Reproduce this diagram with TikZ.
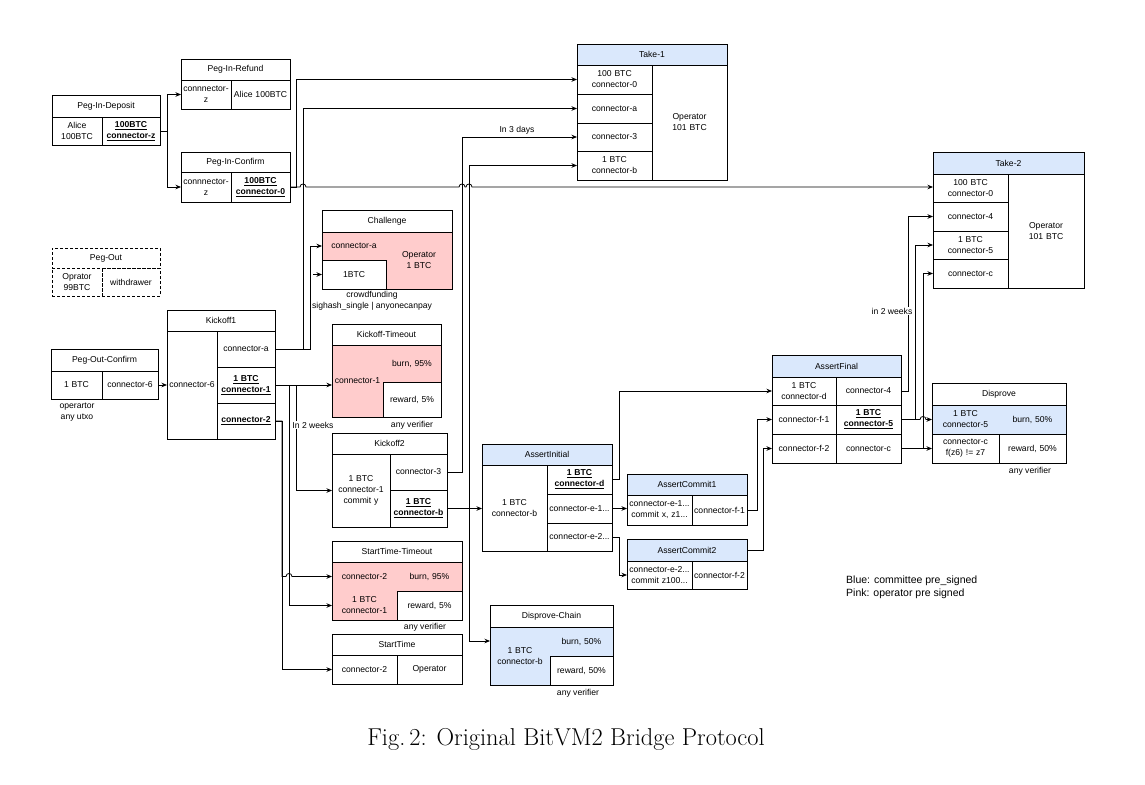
\documentclass[tikz,border=0pt]{standalone}
\usepackage{fontspec}
\newfontfamily\dfont{Liberation Sans}
\usetikzlibrary{arrows.meta,calc}
\definecolor{pinkf}{HTML}{FFCCCC}
\definecolor{bluef}{HTML}{DAE8FC}
\newcommand\bul[1]{\textbf{\underline{#1}}}
\newcommand\cellnode[7][]{%
  \pgfmathsetmacro\cellw{#5-#3}%
  \pgfmathsetmacro\cellh{#6-#4}%
  \pgfmathsetmacro\celltw{#5-#3-2}%
  \node[cell,minimum width=\cellw pt,text width=\celltw pt,minimum height=\cellh pt,#1] (#2) at (#3,#4) {#7};}
\begin{document}
\begin{tikzpicture}[x=1pt,y=-1pt,
  cell/.style={draw,line width=0.8pt,anchor=north west,inner xsep=1pt,inner ysep=0pt,outer sep=0pt,align=center,font=\dfont\fontsize{8.6}{11}\selectfont},
  bx/.style={draw,line width=0.8pt},
  conn/.style={draw,line width=0.8pt,-{Stealth[length=5.5pt,width=4.5pt]}},
  lbl/.style={font=\dfont\fontsize{8.6}{11}\selectfont,inner sep=1pt,align=center}]
\useasboundingbox (0,0) rectangle (1145,784);

% Peg-In-Deposit
\cellnode{pidh}{52}{95}{160}{117}{Peg-In-Deposit}
\cellnode{pidA}{52}{117}{102}{145}{Alice\\100BTC}
\cellnode{pidZ}{102}{117}{160}{145}{\bul{100BTC}\\\bul{connector-z}}
% Peg-In-Refund
\cellnode{pirh}{181}{59}{290}{80}{Peg-In-Refund}
\cellnode{pirZ}{181}{80}{231}{109}{connnector-\\z}
\cellnode{pirA}{231}{80}{290}{109}{Alice 100BTC}
% Peg-In-Confirm
\cellnode{pich}{181}{152}{290}{172}{Peg-In-Confirm}
\cellnode{picZ}{181}{172}{231}{202}{connnector-\\z}
\cellnode{pic0}{231}{172}{290}{202}{\bul{100BTC}\\\bul{connector-0}}
% Take-1
\cellnode[fill=bluef]{t1h}{577}{44}{727}{65}{Take-1}
\cellnode{t1_0}{577}{65}{652}{94}{100 BTC\\connector-0}
\cellnode{t1_a}{577}{94}{652}{123}{connector-a}
\cellnode{t1_3}{577}{123}{652}{151}{connector-3}
\cellnode{t1_b}{577}{151}{652}{180}{1 BTC\\connector-b}
\cellnode{t1_o}{652}{65}{727}{180}{Operator\\101 BTC}
% Take-2
\cellnode[fill=bluef]{t2h}{933}{152}{1084}{174}{Take-2}
\cellnode{t2_0}{933}{174}{1008}{202}{100 BTC\\connector-0}
\cellnode{t2_4}{933}{202}{1008}{231}{connector-4}
\cellnode{t2_5}{933}{231}{1008}{259}{1 BTC\\connector-5}
\cellnode{t2_c}{933}{259}{1008}{288}{connector-c}
\cellnode{t2_o}{1008}{174}{1084}{288}{Operator\\101 BTC}
% Peg-Out
\cellnode[dash pattern=on 3pt off 2pt]{poh}{52}{248}{160}{268}{Peg-Out}
\cellnode[dash pattern=on 3pt off 2pt]{poO}{52}{268}{102}{296}{Oprator\\99BTC}
\cellnode[dash pattern=on 3pt off 2pt]{poW}{102}{268}{160}{296}{withdrawer}
% Challenge
\fill[pinkf] (322,232) rectangle (452,289);
\cellnode{chh}{322}{210}{452}{232}{Challenge}
\cellnode[draw=none]{cha}{322}{232}{386}{260}{connector-a}
\cellnode[fill=white]{ch1}{322}{260}{386}{289}{1BTC}
\cellnode[draw=none]{chop}{386}{232}{452}{289}{Operator\\1 BTC}
\draw[bx] (322,210) rectangle (452,289);
% Peg-Out-Confirm
\cellnode{poch}{51}{349}{158}{371}{Peg-Out-Confirm}
\cellnode{poc1}{51}{371}{102}{399}{1 BTC}
\cellnode{poc6}{102}{371}{158}{399}{connector-6}
% Kickoff1
\cellnode{k1h}{167}{310}{275}{331}{Kickoff1}
\cellnode{k1_6}{167}{331}{217}{439}{connector-6}
\cellnode{k1_a}{217}{331}{275}{367}{connector-a}
\cellnode{k1_1}{217}{367}{275}{403}{\bul{1 BTC}\\\bul{connector-1}}
\cellnode{k1_2}{217}{403}{275}{439}{\bul{connector-2}}
% Kickoff-Timeout
\fill[pinkf] (332,345) rectangle (441,417);
\cellnode{kth}{332}{324}{441}{345}{Kickoff-Timeout}
\cellnode[draw=none]{kt_1}{332}{345}{383}{417}{connector-1}
\cellnode[draw=none]{kt_b}{383}{345}{441}{382}{burn, 95\%}
\cellnode[fill=white]{kt_r}{383}{382}{441}{417}{reward, 5\%}
\draw[bx] (332,324) rectangle (441,417);
% Kickoff2
\cellnode{k2h}{332}{433}{447}{454}{Kickoff2}
\cellnode{k2_1}{332}{454}{390}{527}{1 BTC\\connector-1\\commit y}
\cellnode{k2_3}{390}{454}{447}{490}{connector-3}
\cellnode{k2_b}{390}{490}{447}{527}{\bul{1 BTC}\\\bul{connector-b}}
% StartTime-Timeout
\fill[pinkf] (332,562) rectangle (462,620);
\cellnode{stth}{332}{541}{462}{562}{StartTime-Timeout}
\cellnode[draw=none]{stt_2}{332}{562}{397}{591}{connector-2}
\cellnode[draw=none]{stt_b}{397}{562}{462}{591}{burn, 95\%}
\cellnode[draw=none]{stt_1}{332}{591}{397}{620}{1 BTC\\connector-1}
\cellnode[fill=white]{stt_r}{397}{591}{462}{620}{reward, 5\%}
\draw[bx] (332,541) rectangle (462,620);
% StartTime
\cellnode{sth}{332}{634}{462}{655}{StartTime}
\cellnode{st_2}{332}{655}{397}{684}{connector-2}
\cellnode{st_o}{397}{655}{462}{684}{Operator}
% Disprove-Chain
\fill[bluef] (490,627) rectangle (613,685);
\cellnode{dch}{490}{605}{613}{627}{Disprove-Chain}
\cellnode[draw=none]{dc_b}{490}{627}{550}{685}{1 BTC\\connector-b}
\cellnode[draw=none]{dc_u}{550}{627}{613}{656}{burn, 50\%}
\cellnode[fill=white]{dc_r}{550}{656}{613}{685}{reward, 50\%}
\draw[bx] (490,605) rectangle (613,685);
% AssertInitial
\cellnode[fill=bluef]{aih}{482}{444}{612}{465}{AssertInitial}
\cellnode{ai_b}{482}{465}{547}{551}{1 BTC\\connector-b}
\cellnode{ai_d}{547}{465}{612}{494}{\bul{1 BTC}\\\bul{connector-d}}
\cellnode{ai_e1}{547}{494}{612}{523}{connector-e-1...}
\cellnode{ai_e2}{547}{523}{612}{551}{connector-e-2...}
% AssertCommit1
\cellnode[fill=bluef]{ac1h}{627}{474}{747}{495}{AssertCommit1}
\cellnode{ac1_e}{627}{495}{692}{525}{connector-e-1...\\commit x, z1...}
\cellnode{ac1_f}{692}{495}{747}{525}{connector-f-1}
% AssertCommit2
\cellnode[fill=bluef]{ac2h}{627}{539}{747}{561}{AssertCommit2}
\cellnode{ac2_e}{627}{561}{692}{589}{connector-e-2...\\commit z100...}
\cellnode{ac2_f}{692}{561}{747}{589}{connector-f-2}
% AssertFinal
\cellnode[fill=bluef]{afh}{772}{355}{901}{377}{AssertFinal}
\cellnode{af_d}{772}{377}{836}{405}{1 BTC\\connector-d}
\cellnode{af_4}{836}{377}{901}{405}{connector-4}
\cellnode{af_f1}{772}{405}{836}{434}{connector-f-1}
\cellnode{af_5}{836}{405}{901}{434}{\bul{1 BTC}\\\bul{connector-5}}
\cellnode{af_f2}{772}{434}{836}{463}{connector-f-2}
\cellnode{af_c}{836}{434}{901}{463}{connector-c}
% Disprove
\fill[bluef] (932,405) rectangle (1066,434);
\cellnode{dph}{932}{383}{1066}{405}{Disprove}
\cellnode[draw=none]{dp_5}{932}{405}{999}{434}{1 BTC\\connector-5}
\cellnode[draw=none]{dp_u}{999}{405}{1066}{434}{burn, 50\%}
\cellnode{dp_c}{932}{434}{999}{463}{connector-c\\f(z6) != z7}
\cellnode{dp_r}{999}{434}{1066}{463}{reward, 50\%}
\draw[bx] (932,383) rectangle (1066,463);

% connectors
\draw[conn] (pidZ.east) -- ++(7,0) |- (pirZ.west);
\draw[conn] (pidZ.east) -- ++(7,0) |- (picZ.west);
\draw[conn] (pic0.east) -- ++(6,0) |- (t1_0.west);
\draw[conn] (pic0.east) -- (300,187) .. controls (300,183) and (306,183) .. (306,187)
  -- (459,187) .. controls (459,183) and (465,183) .. (465,187)
  -- (466,187) .. controls (466,183) and (472,183) .. (472,187)
  -- (t2_0.west |- pic0.east);
\draw[conn] (k1_a.east) -- ++(28,0) |- (t1_a.west);
\draw[conn] (k1_a.east) -- ++(35,0) |- (cha.west);
\coordinate (cfin) at (313,274.5);
\draw[conn] (cfin) -- (ch1.west);
\draw[conn] (poc6.east) -- (k1_6.west);
\draw[conn] (k1_1.east) -- (k1_1.east -| kt_1.west);
\draw[conn] (k1_1.east) -- ++(21,0) |- (k2_1.west);
\draw[conn] (k1_1.east) -- ++(14,0) |- (stt_1.west);
\draw[conn] (k1_2.east) -- ++(7,0) |- (st_2.west);
\draw[conn] (k1_2.east) -- (282,421) -- (282,576.5) -- (286,576.5)
  .. controls (286,572.5) and (292,572.5) .. (292,576.5) -- (stt_2.west);
\draw[conn] (k2_3.east) -- ++(15,0) |- (t1_3.west);
\draw[conn] (k2_b.east) -- (ai_b.west |- k2_b.east);
\draw[conn] (k2_b.east) -- ++(22,0) |- (t1_b.west);
\coordinate (dcin) at (490,641);
\draw[conn] (k2_b.east) -- ++(22,0) |- (dcin);
\draw[conn] (ai_d.east) -- ++(7,0) |- (af_d.west);
\draw[conn] (ai_e1.east) -- (ai_e1.east -| ac1_e.west);
\draw[conn] (ai_e2.east) -- ++(7,0) |- (ac2_e.west);
\draw[conn] (ac1_f.east) -- ++(10,0) |- (af_f1.west);
\draw[conn] (ac2h.east) -- ++(16,0) |- (af_f2.west);
\draw[conn] (af_4.east) -- ++(7,0) |- (t2_4.west);
\draw[conn] (af_5.east) -- ++(14,0) |- (t2_5.west);
\draw[conn] (af_c.east) -- ++(22,0) |- (t2_c.west);
\draw[conn] (af_5.east) -- (920,419.5) .. controls (920,415.5) and (926,415.5) .. (926,419.5) -- (dp_5.west);
\draw[conn] (af_c.east) -- (dp_c.west);

% labels
\node[lbl] (l3d) at (517,130) {In 3 days};
\node[lbl,fill=white] (l2w) at (313,425) {In 2 weeks};
\node[lbl,fill=white] (l2wb) at (892,311) {in 2 weeks};
\node[lbl] (cfl) at (372,301) {crowdfunding\\sighash\_single | anyonecanpay};
\node[lbl] (opu) at (77,412.5) {operartor\\any utxo};
\node[lbl] (av1) at (412,425) {any verifier};
\node[lbl] (av2) at (425,627) {any verifier};
\node[lbl] (av3) at (578,693) {any verifier};
\node[lbl] (av4) at (1030,471) {any verifier};
\node[lbl,align=left,anchor=west,font=\dfont\fontsize{10.5}{13}\selectfont] (leg) at (845,587.5) {Blue: committee pre\_signed\\Pink: operator pre signed};
\node[font=\fontsize{24.4}{28}\selectfont,anchor=base,inner sep=0pt] (cap) at (566,745) {Fig.\,2: Original BitVM2 Bridge Protocol};
\end{tikzpicture}
\end{document}
